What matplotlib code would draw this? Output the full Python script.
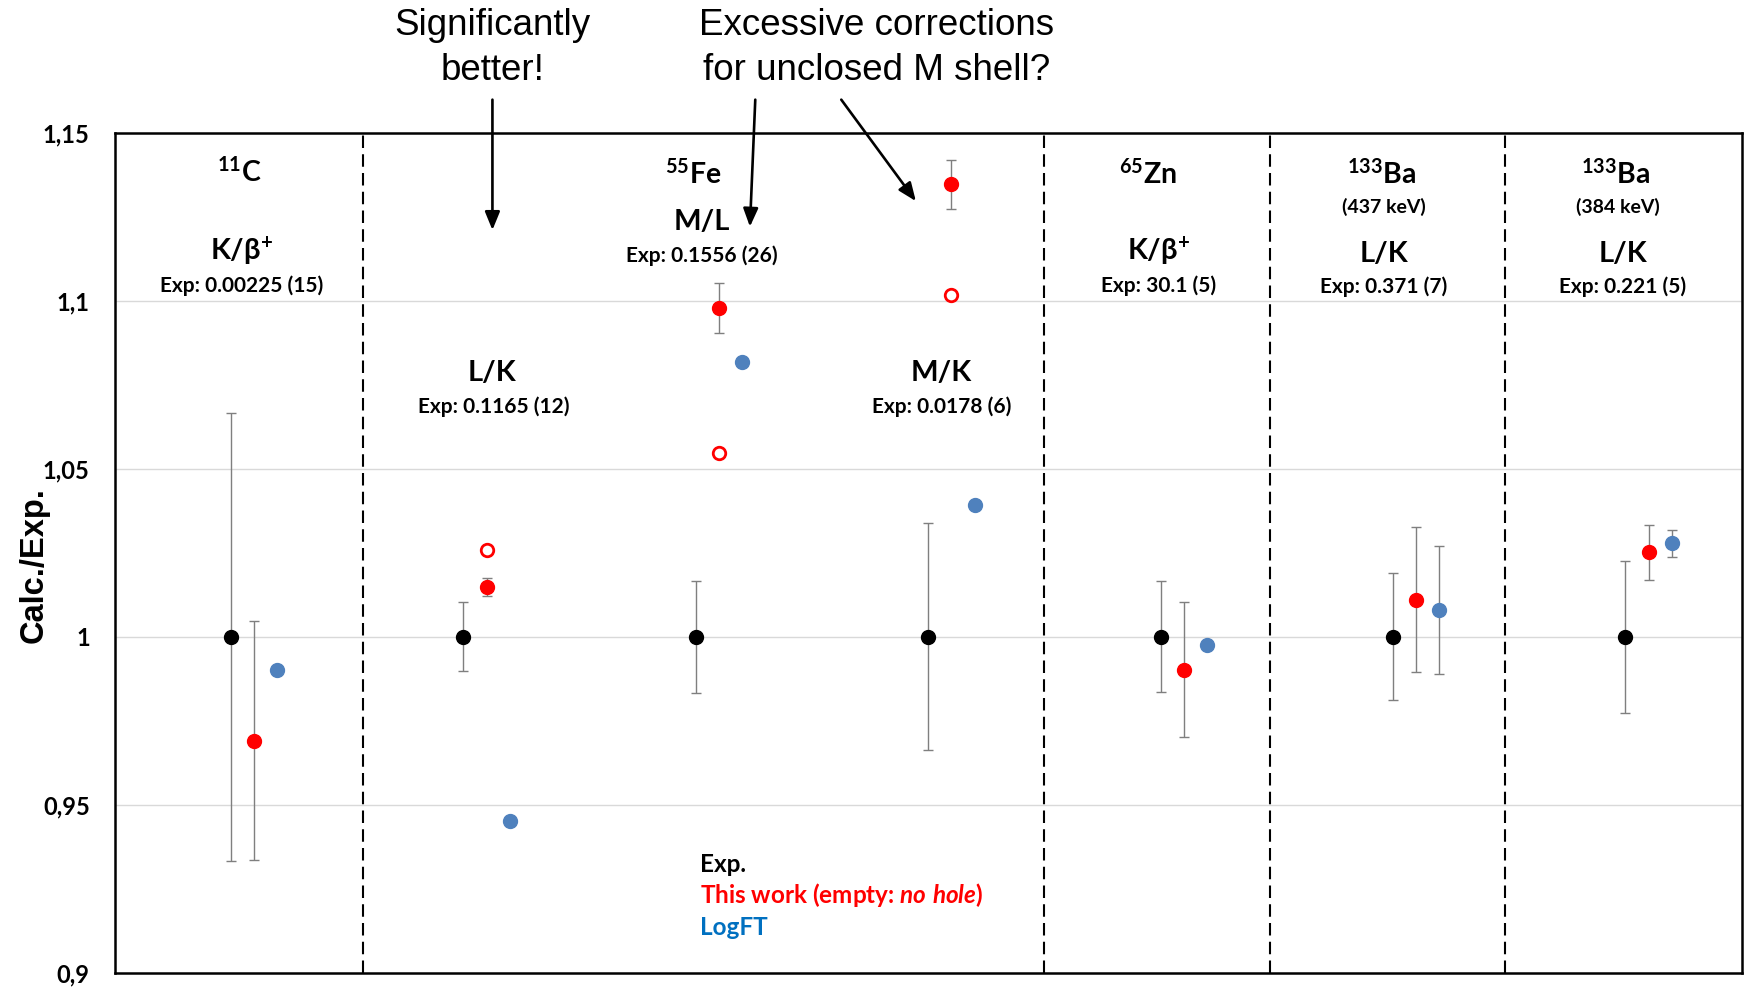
import matplotlib
matplotlib.use("Agg")
import matplotlib.pyplot as plt
import numpy as np

# ---------------- data ----------------
groups = ["11C K/b+", "55Fe L/K", "55Fe M/L", "55Fe M/K", "65Zn K/b+", "133Ba 437 L/K", "133Ba 384 L/K"]
exp_val = [1.0, 1.0, 1.0, 1.0, 1.0, 1.0, 1.0]
exp_err = [0.0667, 0.0103, 0.0167, 0.0337, 0.0166, 0.0189, 0.0226]
this_work = [0.969, 1.0149, 1.0978, 1.1346, 0.9902, 1.011, 1.0251]
this_work_err = [0.0356, 0.0027, 0.0074, 0.0072, 0.0200, 0.0216, 0.0082]
nohole_idx = [1, 2, 3]
nohole_val = [1.0259, 1.0547, 1.1018]
nohole_err = [0.0015, 0.0012, 0.0015]
logft = [0.990, 0.945, 1.0816, 1.0391, 0.9976, 1.008, 1.0278]
logft_err = [np.nan, np.nan, np.nan, np.nan, np.nan, 0.019, 0.004]
separators = [1.07, 4.0, 4.97, 5.98]
yticks = [0.9, 0.95, 1.0, 1.05, 1.1, 1.15]
ytick_labels = ["0,9", "0,95", "1", "1,05", "1,1", "1,15"]

# ---------------- style ----------------
plt.rcParams["mathtext.fontset"] = "custom"
plt.rcParams["mathtext.rm"] = "Lato:bold"
plt.rcParams["mathtext.bf"] = "Lato:bold"
plt.rcParams["mathtext.it"] = "Lato:italic:bold"
plt.rcParams["mathtext.default"] = "regular"

FAM = ["Lato", "DejaVu Sans"]
RED = "#FF0000"
BLUE = "#4F81BD"
ERRC = "#7F7F7F"

fig = plt.figure(figsize=(17.47, 9.88), dpi=100)
ax = fig.add_axes([0.0657, 0.0155, 0.9312, 0.8503])

x = np.arange(len(groups)) + 0.5
ax.set_xlim(0, 7)
ax.set_ylim(0.9, 1.15)

# grid
for yt in yticks[1:-1]:
    ax.axhline(yt, color="#D9D9D9", lw=1.0, zorder=0)
for s in separators:
    ax.axvline(s, color="black", lw=1.5, linestyle=(0, (6, 3)), zorder=1)

ms = 10
ax.errorbar(x, exp_val, yerr=exp_err, fmt="o", color="black", ms=ms,
            ecolor=ERRC, elinewidth=1.0, capsize=3.5, capthick=1.0, zorder=3)
ax.errorbar(x + 0.1, this_work, yerr=this_work_err, fmt="o", color=RED, ms=ms,
            ecolor=ERRC, elinewidth=1.0, capsize=3.5, capthick=1.0, zorder=3)
ax.errorbar(x[nohole_idx] + 0.1, nohole_val, yerr=nohole_err, fmt="o", mfc="white",
            mec=RED, mew=2.0, ms=ms - 1, ecolor=ERRC, elinewidth=1.0, capsize=2,
            capthick=1.0, zorder=3)
ax.errorbar(x + 0.2, logft, yerr=logft_err, fmt="o", color=BLUE, ms=ms,
            ecolor=ERRC, elinewidth=1.0, capsize=3.5, capthick=1.0, zorder=3)

# axes styling
for sp in ax.spines.values():
    sp.set_linewidth(1.8)
ax.set_xticks([])
ax.set_yticks(yticks)
ax.set_yticklabels(ytick_labels, fontfamily=FAM, fontweight="bold", fontsize=17)
ax.tick_params(axis="y", length=0, pad=18)

fig.text(34 / 1747, 1 - 565 / 988, "Calc./Exp.", rotation=90, ha="center", va="center",
         fontfamily=["Liberation Sans", "DejaVu Sans"], fontweight="bold", fontsize=23.5)

# group labels
def lab(xd, yd, s, size, **kw):
    ax.text(xd, yd, s, ha="center", va="center", fontfamily=FAM, fontweight="bold",
            fontsize=size, **kw)

ISO = 20.5
RAT = 21
EXP = 15
lab(0.537, 1.1383, r"$^{11}$C", ISO)
lab(0.547, 1.1144, r"K/β$^{+}$", RAT)
lab(0.547, 1.1044, "Exp: 0.00225 (15)", EXP)

lab(2.49, 1.1376, r"$^{55}$Fe", ISO)
lab(2.526, 1.1233, "M/L", RAT)
lab(2.526, 1.1134, "Exp: 0.1556 (26)", EXP)
lab(1.625, 1.0786, "L/K", RAT)
lab(1.63, 1.0683, "Exp: 0.1165 (12)", EXP)
lab(3.557, 1.0786, "M/K", RAT)
lab(3.557, 1.0683, "Exp: 0.0178 (6)", EXP)

lab(4.444, 1.1376, r"$^{65}$Zn", ISO)
lab(4.492, 1.1144, r"K/β$^{+}$", RAT)
lab(4.492, 1.1044, "Exp: 30.1 (5)", EXP)

lab(5.45, 1.1376, r"$^{133}$Ba", ISO)
lab(5.46, 1.1280, "(437 keV)", 14)
lab(5.46, 1.1140, "L/K", RAT)
lab(5.46, 1.1040, "Exp: 0.371 (7)", EXP)

lab(6.457, 1.1376, r"$^{133}$Ba", ISO)
lab(6.467, 1.1280, "(384 keV)", 14)
lab(6.49, 1.1140, "L/K", RAT)
lab(6.49, 1.1040, "Exp: 0.221 (5)", EXP)

# legend text
LEG = 17.5
ax.text(2.517, 0.9323, "Exp.", ha="left", va="center", color="black",
        fontfamily=FAM, fontweight="bold", fontsize=LEG)
ax.text(2.517, 0.9230, r"This work (empty: $\it{no\ hole}$)", ha="left", va="center", color=RED,
        fontfamily=FAM, fontweight="bold", fontsize=LEG)
ax.text(2.517, 0.9134, "LogFT", ha="left", va="center", color="#0070C0",
        fontfamily=FAM, fontweight="bold", fontsize=LEG)

# annotations above
AF = ["Liberation Sans", "DejaVu Sans"]
ax.text(1.625, 1.1751, "Significantly\nbetter!", ha="center", va="center", fontfamily=AF,
        fontsize=26.5, linespacing=1.36, clip_on=False)
ax.text(3.279, 1.1751, "Excessive corrections\nfor unclosed M shell?", ha="center", va="center",
        fontfamily=AF, fontsize=26.5, linespacing=1.36, clip_on=False)

arrow_kw = dict(arrowstyle="-|>,head_length=1.1,head_width=0.45", color="black", lw=1.9,
                shrinkA=0, shrinkB=0)
ax.annotate("", xy=(1.625, 1.121), xytext=(1.625, 1.1598), arrowprops=arrow_kw,
            annotation_clip=False)
ax.annotate("", xy=(2.733, 1.122), xytext=(2.756, 1.1598), arrowprops=arrow_kw,
            annotation_clip=False)
ax.annotate("", xy=(3.447, 1.1296), xytext=(3.126, 1.1598), arrowprops=arrow_kw,
            annotation_clip=False)

fig.savefig("out.png", dpi=100, facecolor="white")
